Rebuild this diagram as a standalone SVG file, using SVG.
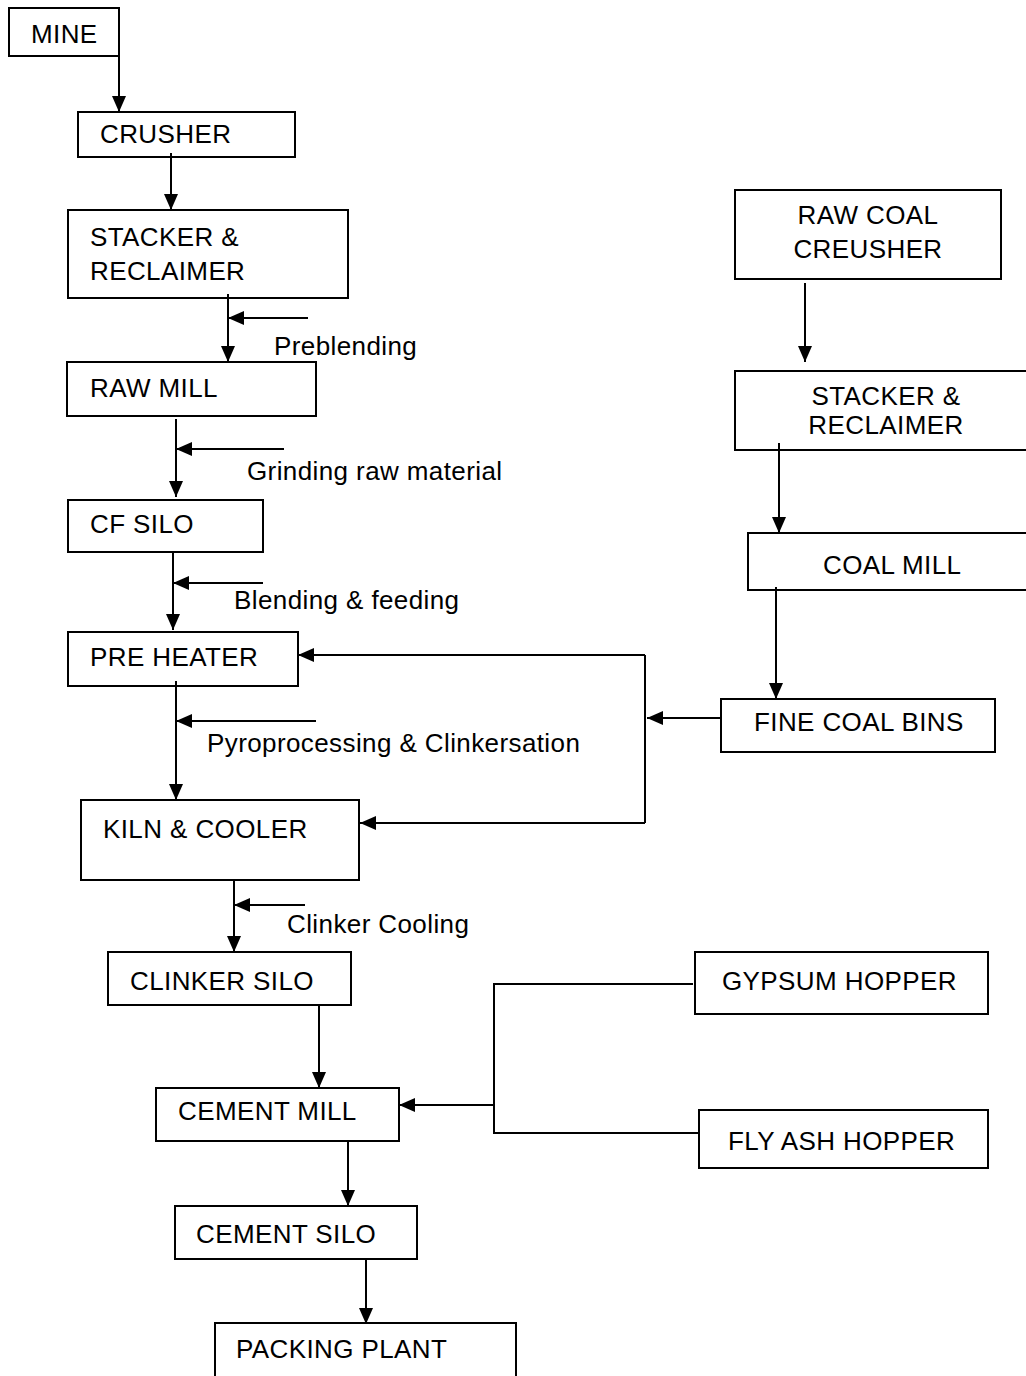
<svg xmlns="http://www.w3.org/2000/svg" width="1026" height="1376" viewBox="0 0 1026 1376">
<style>
.box{fill:#fff;stroke:#000;stroke-width:2}
text{font-family:"Liberation Sans",Arial,sans-serif;font-size:26px;letter-spacing:0.4px;fill:#000}
.c line,.c polyline{stroke:#000;stroke-width:2;fill:none}
.a{marker-end:url(#ah)}
</style>
<defs>
<marker id="ah" viewBox="0 0 16 14" refX="16" refY="7" markerWidth="16" markerHeight="14" markerUnits="userSpaceOnUse" orient="auto">
<path d="M0,0 L16,7 L0,14 Z" fill="#000"/>
</marker>
</defs>
<rect width="1026" height="1376" fill="#fff"/>
<g id="mine"><rect class="box" x="9" y="8" width="110" height="48"/><text x="31" y="43">MINE</text></g>
<g id="crusher"><rect class="box" x="78" y="112" width="217" height="45"/><text x="100" y="143">CRUSHER</text></g>
<g id="stacker1"><rect class="box" x="68" y="210" width="280" height="88"/><text x="90" y="246">STACKER &amp;</text><text x="90" y="280">RECLAIMER</text></g>
<g id="rawmill"><rect class="box" x="67" y="362" width="249" height="54"/><text x="90" y="397">RAW MILL</text></g>
<g id="cfsilo"><rect class="box" x="68" y="500" width="195" height="52"/><text x="90" y="533">CF SILO</text></g>
<g id="preheater"><rect class="box" x="68" y="632" width="230" height="54"/><text x="90" y="666">PRE HEATER</text></g>
<g id="kiln"><rect class="box" x="81" y="800" width="278" height="80"/><text x="103" y="838">KILN &amp; COOLER</text></g>
<g id="clinkersilo"><rect class="box" x="108" y="952" width="243" height="53"/><text x="130" y="990">CLINKER SILO</text></g>
<g id="cementmill"><rect class="box" x="156" y="1088" width="243" height="53"/><text x="178" y="1120">CEMENT MILL</text></g>
<g id="cementsilo"><rect class="box" x="175" y="1206" width="242" height="53"/><text x="196" y="1243">CEMENT SILO</text></g>
<g id="packing"><rect class="box" x="215" y="1323" width="301" height="60"/><text x="236" y="1358">PACKING PLANT</text></g>
<g id="rawcoal"><rect class="box" x="735" y="190" width="266" height="89"/><text x="868" y="224" text-anchor="middle">RAW COAL</text><text x="868" y="258" text-anchor="middle">CREUSHER</text></g>
<g id="stacker2"><rect class="box" x="735" y="371" width="300" height="79"/><text x="886" y="405" text-anchor="middle">STACKER &amp;</text><text x="886" y="434" text-anchor="middle">RECLAIMER</text></g>
<g id="coalmill"><rect class="box" x="748" y="533" width="290" height="57"/><text x="823" y="574">COAL MILL</text></g>
<g id="finecoal"><rect class="box" x="721" y="699" width="274" height="53"/><text x="754" y="731">FINE COAL BINS</text></g>
<g id="gypsum"><rect class="box" x="695" y="952" width="293" height="62"/><text x="722" y="990">GYPSUM HOPPER</text></g>
<g id="flyash"><rect class="box" x="699" y="1110" width="289" height="58"/><text x="728" y="1150">FLY ASH HOPPER</text></g>
<g id="labels">
<text x="274" y="355">Preblending</text>
<text x="247" y="480">Grinding raw material</text>
<text x="234" y="609">Blending &amp; feeding</text>
<text x="207" y="752">Pyroprocessing &amp; Clinkersation</text>
<text x="287" y="933">Clinker Cooling</text>
</g>
<g class="c">
<line class="a" x1="119" y1="22" x2="119" y2="112"/>
<line class="a" x1="171" y1="153" x2="171" y2="210"/>
<line class="a" x1="228" y1="294" x2="228" y2="362"/>
<line class="a" x1="308" y1="318" x2="228" y2="318"/>
<line class="a" x1="176" y1="419" x2="176" y2="497"/>
<line class="a" x1="284" y1="449" x2="176" y2="449"/>
<line class="a" x1="173" y1="553" x2="173" y2="630"/>
<line class="a" x1="263" y1="583" x2="173" y2="583"/>
<line class="a" x1="176" y1="681" x2="176" y2="800"/>
<line class="a" x1="316" y1="721" x2="176" y2="721"/>
<line x1="645" y1="655" x2="645" y2="823"/>
<line class="a" x1="645" y1="655" x2="298" y2="655"/>
<line class="a" x1="645" y1="823" x2="360" y2="823"/>
<line class="a" x1="721" y1="718" x2="647" y2="718"/>
<line class="a" x1="234" y1="880" x2="234" y2="952"/>
<line class="a" x1="305" y1="905" x2="234" y2="905"/>
<line class="a" x1="319" y1="1005" x2="319" y2="1088"/>
<polyline points="693,984 494,984 494,1133 699,1133"/>
<line class="a" x1="494" y1="1105" x2="399" y2="1105"/>
<line class="a" x1="348" y1="1141" x2="348" y2="1206"/>
<line class="a" x1="366" y1="1259" x2="366" y2="1324"/>
<line class="a" x1="805" y1="283" x2="805" y2="362"/>
<line class="a" x1="779" y1="443" x2="779" y2="533"/>
<line class="a" x1="776" y1="587" x2="776" y2="699"/>
</g>
</svg>
